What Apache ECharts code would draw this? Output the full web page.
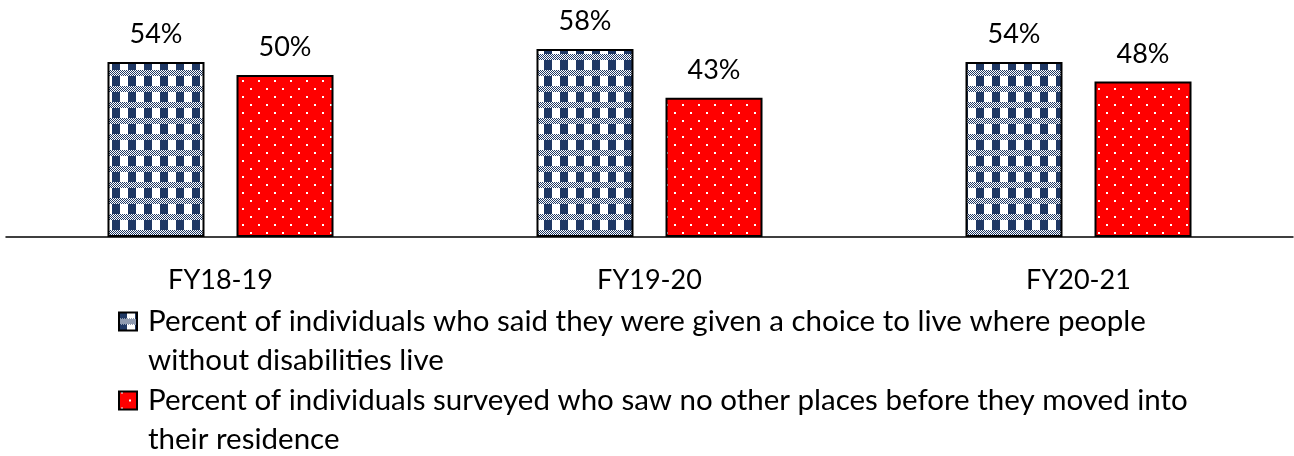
<!DOCTYPE html>
<html>
<head>
<meta charset="utf-8">
<script src="https://cdn.jsdelivr.net/npm/echarts@6/dist/echarts.min.js"></script>
<style>
  html, body { margin: 0; padding: 0; background: #fff; }
  #chart { width: 1294px; height: 456px; }
</style>
</head>
<body>
<div id="chart"></div>
<script>
const categories = ['FY18-19', 'FY19-20', 'FY20-21'];
const choiceValues = [54, 58, 54];
const noOtherValues = [50, 43, 48];
const choiceName = 'Percent of individuals who said they were given a choice to live where people\nwithout disabilities live';
const noOtherName = 'Percent of individuals surveyed who saw no other places before they moved into\ntheir residence';

const FONT = 'Lato';

// plaid tile: navy columns + 1px checker band
function plaidTile() {
    const c = document.createElement('canvas');
    c.width = 16; c.height = 16;
    const ctx = c.getContext('2d');
    ctx.fillStyle = '#fff';
    ctx.fillRect(0, 0, 16, 16);
    ctx.fillStyle = '#1f3864';
    for (let y = 0; y < 16; y++) {
        const checker = y >= 6 && y < 12;
        for (let x = 0; x < 16; x++) {
            if (checker ? (x + y) % 2 === 0 : x < 8) ctx.fillRect(x, y, 1, 1);
        }
    }
    return c;
}

// red with small white dots
function dotTile() {
    const c = document.createElement('canvas');
    c.width = 16; c.height = 16;
    const ctx = c.getContext('2d');
    ctx.fillStyle = '#ff0000';
    ctx.fillRect(0, 0, 16, 16);
    ctx.fillStyle = '#fff';
    ctx.fillRect(2, 0, 2, 2);
    ctx.fillRect(10, 8, 2, 2);
    return c;
}

const chart = echarts.init(document.getElementById('chart'), null, { renderer: 'canvas' });

const labelStyle = {
    show: true,
    position: 'top',
    distance: 14,
    formatter: '{c}%',
    fontFamily: FONT,
    fontSize: 27,
    color: '#000'
};

function legendFor(name, top) {
    return {
        data: [name],
        left: 118,
        top: top,
        padding: 0,
        orient: 'vertical',
        icon: 'rect',
        itemWidth: 18,
        itemHeight: 18,
        formatter: n => '\n' + n,
        textStyle: {
            fontFamily: FONT,
            fontSize: 29.5,
            lineHeight: 39,
            color: '#000',
            padding: [0, 0, 0, 6]
        }
    };
}

chart.setOption({
    animation: false,
    backgroundColor: '#fff',
    grid: { left: 6, right: 1, top: 42.6, height: 194.4 },
    xAxis: {
        type: 'category',
        data: categories,
        axisLine: { lineStyle: { color: '#000', width: 1.5 } },
        axisTick: { show: false },
        axisLabel: {
            margin: 30,
            fontFamily: FONT,
            fontSize: 27,
            color: '#000'
        }
    },
    yAxis: {
        type: 'value',
        min: 0,
        max: 60,
        show: false,
        splitLine: { show: false }
    },
    legend: [legendFor(choiceName, 263), legendFor(noOtherName, 342)],
    series: [
        {
            name: choiceName,
            type: 'bar',
            data: choiceValues,
            barWidth: 97,
            barGap: '33%',
            itemStyle: {
                color: { image: plaidTile(), repeat: 'repeat' },
                borderColor: '#000',
                borderWidth: 2
            },
            label: labelStyle
        },
        {
            name: noOtherName,
            type: 'bar',
            data: noOtherValues,
            barWidth: 97,
            itemStyle: {
                color: { image: dotTile(), repeat: 'repeat' },
                borderColor: '#000',
                borderWidth: 2
            },
            label: labelStyle
        }
    ]
});
</script>
</body>
</html>
